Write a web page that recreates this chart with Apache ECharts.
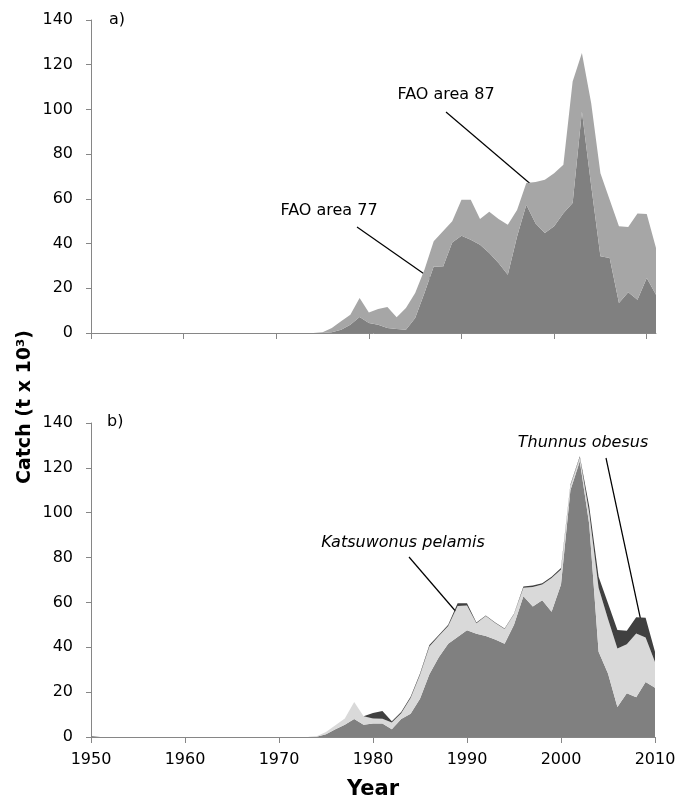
<!DOCTYPE html>
<html>
<head>
<meta charset="utf-8">
<script src="https://cdn.jsdelivr.net/npm/echarts@6/dist/echarts.min.js"></script>
<style>
html,body{margin:0;padding:0;background:#fff;}
#chart{width:692px;height:803px;}
</style>
</head>
<body>
<div id="chart"></div>
<script>
// ---- Data ----
// Panel a) (x positions as plotted in the original, 1950–2011)
const yearsTop = [1950,1951,1952,1953,1954,1955,1956,1957,1958,1959,1960,1961,1962,1963,1964,1965,1966,1967,1968,1969,1970,1971,1972,1973,1974,1975,1976,1977,1978,1979,1980,1981,1982,1983,1984,1985,1986,1987,1988,1989,1990,1991,1992,1993,1994,1995,1996,1997,1998,1999,2000,2001,2002,2003,2004,2005,2006,2007,2008,2009,2010,2011];
const fao77 = [0,0,0,0,0,0,0,0,0,0,0,0,0,0,0,0,0,0,0,0,0,0,0,0,0,0,
  0.3,1.5,3.7,7.2,4.5,3.7,2.2,1.8,1.5,6.7,17.9,29.8,29.5,40.5,43.5,41.7,39.5,35.8,31.3,26.1,43.2,57.4,49,44.7,47.7,53.6,58.1,99.1,66,34.3,33.5,13.4,18.2,14.9,24.6,17.1];
const fao87 = [0,0,0,0,0,0,0,0,0,0,0,0,0,0,0,0,0,0,0,0,0,0,0,0,0,
  0.3,1.9,3.7,4.5,8.4,4.7,7.0,9.4,5.2,9.7,11.2,10.4,11.2,16,9.5,16.1,17.9,11.5,18.4,19.7,22.3,11.8,9.7,18.5,23.9,23.8,21.7,54.4,26.1,36.9,37.2,26.1,34.3,29.2,38.5,28.6,20.9];

// Panel b) 1950–2010
const yearsBottom = [1950,1951,1952,1953,1954,1955,1956,1957,1958,1959,1960,1961,1962,1963,1964,1965,1966,1967,1968,1969,1970,1971,1972,1973,1974,1975,1976,1977,1978,1979,1980,1981,1982,1983,1984,1985,1986,1987,1988,1989,1990,1991,1992,1993,1994,1995,1996,1997,1998,1999,2000,2001,2002,2003,2004,2005,2006,2007,2008,2009,2010];
const albacares = [0.5,0,0,0,0,0,0,0,0,0,0,0,0,0,0,0,0,0,0,0,0,0,0,0,
  0.1,1.2,3.5,5.5,8,5.5,6,6,3.5,8,10.4,17,28,35.6,41.6,44.6,47.6,46,45,43.5,41.6,50,62.7,58.2,61,55.8,68,110,123,95,38,28.3,13.4,19.5,17.7,24.5,22];
const pelamis = [0,0,0,0,0,0,0,0,0,0,0,0,0,0,0,0,0,0,0,0,0,0,0,0,
  0.2,1.0,1.7,2.7,7.6,3.7,2.2,2.1,3.0,2.6,7.0,10.8,12.4,9.4,7.9,13.8,11.0,4.7,8.9,7.3,6.6,4.7,3.8,8.7,7.0,15.1,6.7,2.0,1.7,5.0,28.5,24.3,26.1,21.9,28.4,19.9,11.4];
const obesus = [0,0,0,0,0,0,0,0,0,0,0,0,0,0,0,0,0,0,0,0,0,0,0,0,0,0,0,0,0,0,
  2.5,3.5,0.5,0.6,0.5,0.5,0.6,0.5,0.5,1.2,1.0,0.3,0.3,0.2,0.2,0.3,0.6,0.6,0.6,0.6,0.6,0.5,0.5,2.9,5,7,8.2,6,7.3,8.8,4.6];

const yTicks = [0,20,40,60,80,100,120,140];
const tickEvery = 10; // one tick per decade

// ---- Chart ----
const FONT = 'DejaVu Sans';
const AXIS_COLOR = '#868686';
const chart = echarts.init(document.getElementById('chart'), null, {renderer: 'canvas'});

function yAxis(gridIndex) {
  return {
    type: 'value', gridIndex, min: yTicks[0], max: yTicks[yTicks.length - 1], interval: 20,
    axisLine: {show: true, lineStyle: {color: AXIS_COLOR, width: 1}},
    axisTick: {show: true, inside: false, length: 5, lineStyle: {color: AXIS_COLOR}},
    axisLabel: {show: true, margin: 18, color: '#000', fontFamily: FONT, fontSize: 16},
    splitLine: {show: false}
  };
}

function xAxis(gridIndex, years, showLabels) {
  const ax = {
    type: 'category', gridIndex, data: years.map(String), boundaryGap: false,
    axisLine: {show: true, onZero: false, lineStyle: {color: AXIS_COLOR, width: 1}},
    axisTick: {show: true, length: 6, interval: tickEvery - 1, lineStyle: {color: AXIS_COLOR}},
    axisLabel: {show: showLabels, interval: tickEvery - 1, margin: 15, color: '#000', fontFamily: FONT, fontSize: 16},
    splitLine: {show: false}
  };
  if (showLabels) {
    ax.name = 'Year';
    ax.nameLocation = 'middle';
    ax.nameGap = 42;
    ax.nameTextStyle = {fontFamily: FONT, fontSize: 21, fontWeight: 'bold', color: '#000'};
  }
  return ax;
}

function area(name, idx, stack, ys, color) {
  return {
    name, type: 'line', xAxisIndex: idx, yAxisIndex: idx, stack,
    data: ys, symbol: 'none', showSymbol: false,
    lineStyle: {width: 0}, itemStyle: {color},
    areaStyle: {color, opacity: 1}, silent: true
  };
}

const option = {
  animation: false,
  backgroundColor: '#fff',
  grid: [
    {left: 91, top: 20, width: 565, height: 313, containLabel: false, outerBoundsMode: 'none'},
    {left: 91, top: 423, width: 564, height: 314, containLabel: false, outerBoundsMode: 'none'}
  ],
  xAxis: [xAxis(0, yearsTop, false), xAxis(1, yearsBottom, true)],
  yAxis: [yAxis(0), yAxis(1)],
  series: [
    area('FAO area 77', 0, 'top', fao77, '#808080'),
    area('FAO area 87', 0, 'top', fao87, '#a6a6a6'),
    area('Thunnus albacares', 1, 'bot', albacares, '#808080'),
    area('Katsuwonus pelamis', 1, 'bot', pelamis, '#d9d9d9'),
    area('Thunnus obesus', 1, 'bot', obesus, '#404040')
  ],
  graphic: [
    {type: 'text', x: 25, y: 407, rotation: Math.PI / 2,
      style: {text: 'Catch (t x 10³)', font: 'bold 19px "DejaVu Sans"', fill: '#000', align: 'center', verticalAlign: 'middle'}},
    {type: 'text', x: 109, y: 20, style: {text: 'a)', font: '16px "DejaVu Sans"', fill: '#000', align: 'left', verticalAlign: 'middle'}},
    {type: 'text', x: 107, y: 422, style: {text: 'b)', font: '16px "DejaVu Sans"', fill: '#000', align: 'left', verticalAlign: 'middle'}},
    // panel a annotations
    {type: 'text', x: 329, y: 211, style: {text: 'FAO area 77', font: '16px "DejaVu Sans"', fill: '#000', align: 'center', verticalAlign: 'middle'}},
    {type: 'line', shape: {x1: 357, y1: 227, x2: 460, y2: 299}, style: {stroke: '#000', lineWidth: 1.2}},
    {type: 'text', x: 446, y: 95, style: {text: 'FAO area 87', font: '16px "DejaVu Sans"', fill: '#000', align: 'center', verticalAlign: 'middle'}},
    {type: 'line', shape: {x1: 446, y1: 112, x2: 547, y2: 198}, style: {stroke: '#000', lineWidth: 1.2}},
    // panel b annotations
    {type: 'text', x: 403, y: 543, style: {text: 'Katsuwonus pelamis', font: 'italic 16px "DejaVu Sans"', fill: '#000', align: 'center', verticalAlign: 'middle'}},
    {type: 'line', shape: {x1: 409, y1: 557, x2: 464, y2: 621}, style: {stroke: '#000', lineWidth: 1.2}},
    {type: 'text', x: 517, y: 688, style: {text: 'Thunnus albacares', font: 'italic 16px "DejaVu Sans"', fill: '#000', align: 'center', verticalAlign: 'middle'}},
    {type: 'text', x: 583, y: 443, style: {text: 'Thunnus obesus', font: 'italic 16px "DejaVu Sans"', fill: '#000', align: 'center', verticalAlign: 'middle'}},
    {type: 'line', shape: {x1: 606, y1: 458, x2: 642, y2: 626}, style: {stroke: '#000', lineWidth: 1.2}}
  ]
};
chart.setOption(option);
</script>
</body>
</html>
